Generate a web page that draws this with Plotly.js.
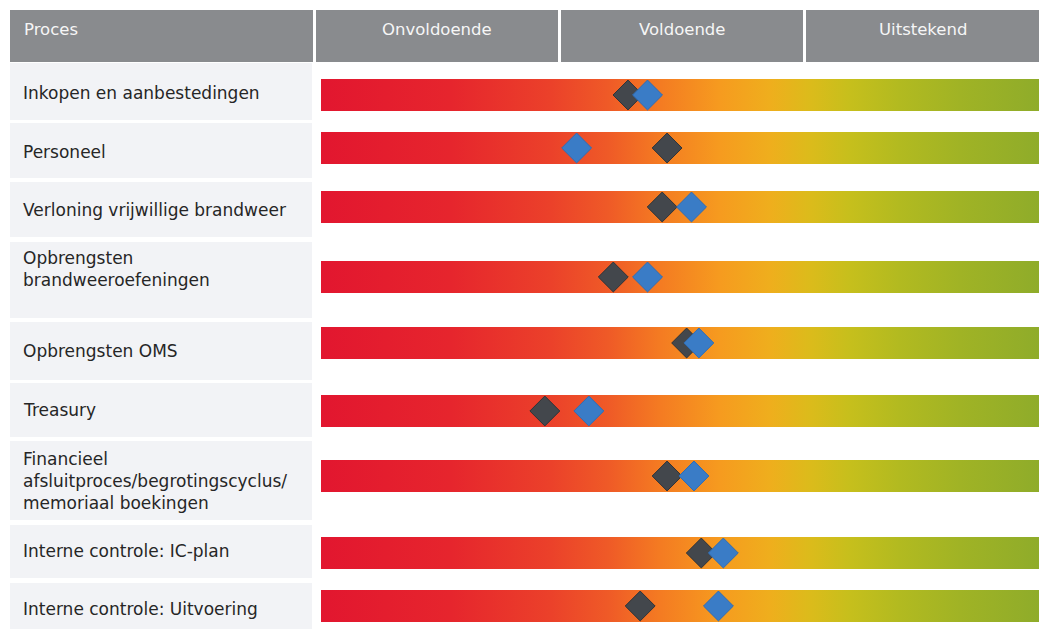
<!DOCTYPE html>
<html>
<head>
<meta charset="utf-8">
<script src="https://cdn.plot.ly/plotly-3.0.1.min.js"></script>
<style>html,body{margin:0;padding:0;background:#fff;}#chart{width:1039px;height:629px;}</style>
</head>
<body>
<div id="chart"></div>
<script>
// ---- data ----
const processes = [
  "Inkopen en aanbestedingen",
  "Personeel",
  "Verloning vrijwillige brandweer",
  "Opbrengsten<br>brandweeroefeningen",
  "Opbrengsten OMS",
  "Treasury",
  "Financieel<br>afsluitproces/begrotingscyclus/<br>memoriaal boekingen",
  "Interne controle: IC-plan",
  "Interne controle: Uitvoering"
];
const levels = ["Onvoldoende", "Voldoende", "Uitstekend"];
const headerFirst = "Proces";
// scores on a 0-3 scale (0-1 Onvoldoende, 1-2 Voldoende, 2-3 Uitstekend)
const scoreDark = [1.28, 1.44, 1.42, 1.22, 1.52, 0.94, 1.44, 1.58, 1.33];
const scoreBlue = [1.36, 1.07, 1.54, 1.36, 1.57, 1.12, 1.55, 1.67, 1.65];

// ---- layout geometry (pixels) ----
const W = 1039, H = 629;
const unitPx = 244.5, zeroPx = 315;
const xr = [-zeroPx / unitPx, (W - zeroPx) / unitPx];
const rowCenter = [95, 148, 207, 277, 343, 411, 476, 553, 606];
const labelCenter = [93, 152, 210, 269, 351, 410, 481, 551, 609];
const cellTop = [63, 123, 182, 242, 322, 383, 441, 525, 583];
const cellBot = [120, 178, 237, 318, 380, 437, 520, 578, 629];
const barHalf = 16;
const barStart = 6 / unitPx;

const px = v => v / W;
const grad = [
  [0, "#e2162f"], [0.18, "#e6252d"], [0.32, "#eb412a"], [0.40, "#ef5a27"],
  [0.47, "#f47a22"], [0.556, "#f69b1f"], [0.625, "#efae1d"], [0.68, "#dcbb1b"],
  [0.737, "#c6bf1c"], [0.806, "#b2ba20"], [0.89, "#a0b325"], [1, "#8fac2a"]
];

const traces = [];
processes.forEach((p, i) => {
  const y0 = rowCenter[i] - barHalf, y1 = rowCenter[i] + barHalf;
  traces.push({
    type: "scatter", mode: "lines", hoverinfo: "skip", showlegend: false,
    x: [barStart, xr[1], xr[1], barStart, barStart],
    y: [y0, y0, y1, y1, y0],
    fill: "toself", line: {width: 0},
    fillgradient: {type: "horizontal", colorscale: grad}
  });
});
traces.push({
  type: "scatter", mode: "markers", name: "dark", showlegend: false,
  x: scoreDark, y: rowCenter,
  marker: {symbol: "diamond", size: 23, color: "#43474c", line: {color: "#2f3338", width: 1}}
});
traces.push({
  type: "scatter", mode: "markers", name: "blue", showlegend: false,
  x: scoreBlue, y: rowCenter,
  marker: {symbol: "diamond", size: 23, color: "#3a7cc6", line: {color: "#2f6db5", width: 1}}
});

const shapes = [];
// header cells
const hdr = [[10, 313], [316, 558], [561, 803], [806, W]];
hdr.forEach(h => shapes.push({
  type: "rect", xref: "paper", yref: "y", x0: px(h[0]), x1: px(h[1]), y0: 10, y1: 62,
  fillcolor: "#898b8e", line: {width: 0}, layer: "below"
}));
// label cells
processes.forEach((p, i) => shapes.push({
  type: "rect", xref: "paper", yref: "y", x0: px(10), x1: px(312), y0: cellTop[i], y1: cellBot[i],
  fillcolor: "#f2f3f6", line: {width: 0}, layer: "below"
}));

const annotations = [];
const fam = "DejaVu Sans, Open Sans, sans-serif";
const hfont = {family: fam, size: 16.5, color: "#f6f6f6"};
annotations.push({xref: "paper", yref: "y", x: px(22), y: 29, text: headerFirst, showarrow: false,
  xanchor: "left", yanchor: "middle", font: hfont});
levels.forEach((l, i) => {
  const h = hdr[i + 1];
  annotations.push({xref: "paper", yref: "y", x: px((h[0] + Math.min(h[1], 1048)) / 2), y: 29, text: l,
    showarrow: false, xanchor: "center", yanchor: "middle", font: hfont});
});
processes.forEach((p, i) => annotations.push({
  xref: "paper", yref: "y", x: px(21), y: labelCenter[i], text: p, showarrow: false,
  xanchor: "left", yanchor: "middle", align: "left",
  font: {family: fam, size: 17, color: "#262626"}
}));

const layout = {
  width: W, height: H,
  margin: {l: 0, r: 0, t: 0, b: 0, pad: 0},
  paper_bgcolor: "#ffffff", plot_bgcolor: "rgba(0,0,0,0)",
  xaxis: {range: xr, visible: false, fixedrange: true},
  yaxis: {range: [H, 0], visible: false, fixedrange: true},
  shapes: shapes, annotations: annotations, showlegend: false
};
Plotly.newPlot("chart", traces, layout, {staticPlot: true, displayModeBar: false});
</script>
</body>
</html>
